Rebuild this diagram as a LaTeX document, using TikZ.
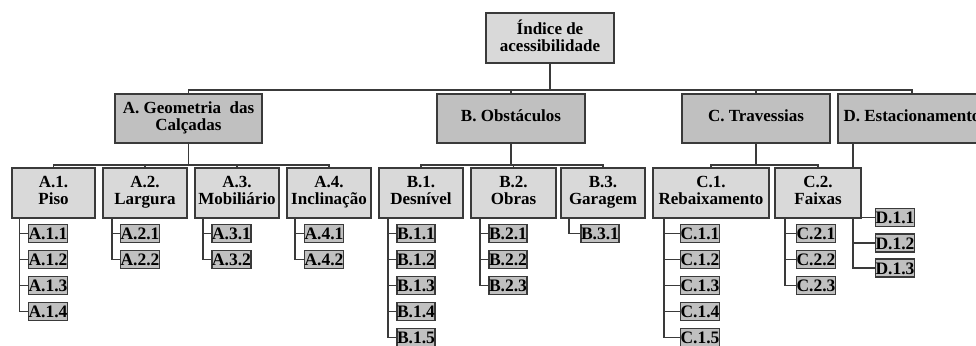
\documentclass[tikz,border=0pt]{standalone}
\usepackage{fontspec}
\setmainfont{Liberation Serif}
\definecolor{boxlight}{HTML}{D9D9D9}
\definecolor{boxdark}{HTML}{C0C0C0}
\definecolor{edge}{HTML}{3A3A3A}
\tikzset{
  base/.style={draw=edge, line width=1.3pt, rectangle, inner sep=0pt, align=center,
    font=\fontsize{17}{17}\selectfont\bfseries,
    execute at begin node={\strut}, execute at end node={\strut}},
  rootbox/.style={base, fill=boxlight, minimum width=128pt, minimum height=50pt},
  topbox/.style={base, fill=boxdark, minimum width=148pt, minimum height=49pt},
  midbox/.style={base, fill=boxlight, minimum height=50pt},
  leafbox/.style={draw=edge, line width=1.6pt, rectangle, inner sep=0pt, fill=boxdark,
    minimum width=37pt, minimum height=18pt, text height=12pt, text depth=0pt,
    font=\fontsize{17.5}{17}\selectfont\bfseries},
  conn/.style={draw=edge, line width=1.3pt},
}
\begin{document}
\begin{tikzpicture}[x=1pt,y=-1pt]
\useasboundingbox (0,0) rectangle (976,345);
\clip (0,0) rectangle (976,345);
% root
\node[rootbox] (root) at (550,38) {Índice de\\acessibilidade};
% level 1
\node[topbox, minimum width=147pt] (A) at (188.5,118.5) {A. Geometria\ \ das\\Calçadas};
\node[topbox] (B) at (511,118.5) {B. Obstáculos};
\node[topbox] (C) at (756,118.5) {C. Travessias};
\node[topbox] (D) at (912,118.5) {D. Estacionamento};
% bus top
\coordinate (bus) at (550,90);
\draw[conn] (root.south) -- (bus);
\draw[conn] (A.north) -- (188.5,90) -- (912,90) -- (D.north);
\draw[conn] (B.north) -- (511,90);
\draw[conn] (C.north) -- (756,90);
% D leaves (line passes behind C.2)
\node[leafbox, minimum width=36pt] (D11) at (895,217.5) {D.1.1};
\node[leafbox, minimum width=36pt] (D12) at (895,243) {D.1.2};
\node[leafbox, minimum width=36pt] (D13) at (895,268) {D.1.3};
\draw[conn] (D.south -| 853,0) -- (853,268) -- (D13.west);
\draw[conn] (853,217.5) -- (D11.west);
\draw[conn] (853,243) -- (D12.west);
% level 2
\node[midbox, minimum width=83pt] (A1) at (53.5,193) {A.1.\\Piso};
\node[midbox, minimum width=84pt] (A2) at (145,193) {A.2.\\Largura};
\node[midbox, minimum width=84pt] (A3) at (237,193) {A.3.\\Mobiliário};
\node[midbox, minimum width=84pt] (A4) at (329,193) {A.4.\\Inclinação};
\node[midbox, minimum width=84pt] (B1) at (421,193) {B.1.\\Desnível};
\node[midbox, minimum width=85pt] (B2) at (513.5,193) {B.2.\\Obras};
\node[midbox, minimum width=84pt] (B3) at (603,193) {B.3.\\Garagem};
\node[midbox, minimum width=116pt] (C1) at (711,193) {C.1.\\Rebaixamento};
\node[midbox, minimum width=86pt] (C2) at (818,193) {C.2.\\Faixas};
% level 2 buses
\draw[conn] (A.south) -- (188.5,165);
\draw[conn] (A1.north) -- (53.5,165) -- (329,165) -- (A4.north);
\draw[conn] (A2.north) -- (145,165);
\draw[conn] (A3.north) -- (237,165);
\draw[conn] (B.south) -- (511,165);
\draw[conn] (B1.north) -- (421,165) -- (603,165) -- (B3.north);
\draw[conn] (B2.north) -- (513.5,165);
\draw[conn] (C.south) -- (756,165);
\draw[conn] (C1.north) -- (711,165) -- (818,165) -- (C2.north);
% leaves
\newcommand{\leafcol}[5]{% parent, linex, boxcenter, prefix, count
  \foreach \i in {1,...,#5} {
    \pgfmathsetmacro{\yy}{233.5+26*(\i-1)}
    \node[leafbox] (#1l\i) at (#3,\yy) {#4.\i};
    \draw[conn] (#2,\yy) -- (#1l\i.west);
  }
  \pgfmathsetmacro{\ylast}{233.5+26*(#5-1)}
  \draw[conn] (#1.south -| #2,0) -- (#2,\ylast);
}
\leafcol{A1}{19.5}{48}{A.1}{4}
\leafcol{A2}{112}{140}{A.2}{2}
\leafcol{A3}{203}{231.5}{A.3}{2}
\leafcol{A4}{295}{324}{A.4}{2}
\leafcol{B1}{388}{416}{B.1}{5}
\leafcol{B2}{480}{508}{B.2}{3}
\leafcol{B3}{569}{600}{B.3}{1}
\leafcol{C1}{664}{700}{C.1}{5}
\leafcol{C2}{785}{816}{C.2}{3}
\end{tikzpicture}
\end{document}
